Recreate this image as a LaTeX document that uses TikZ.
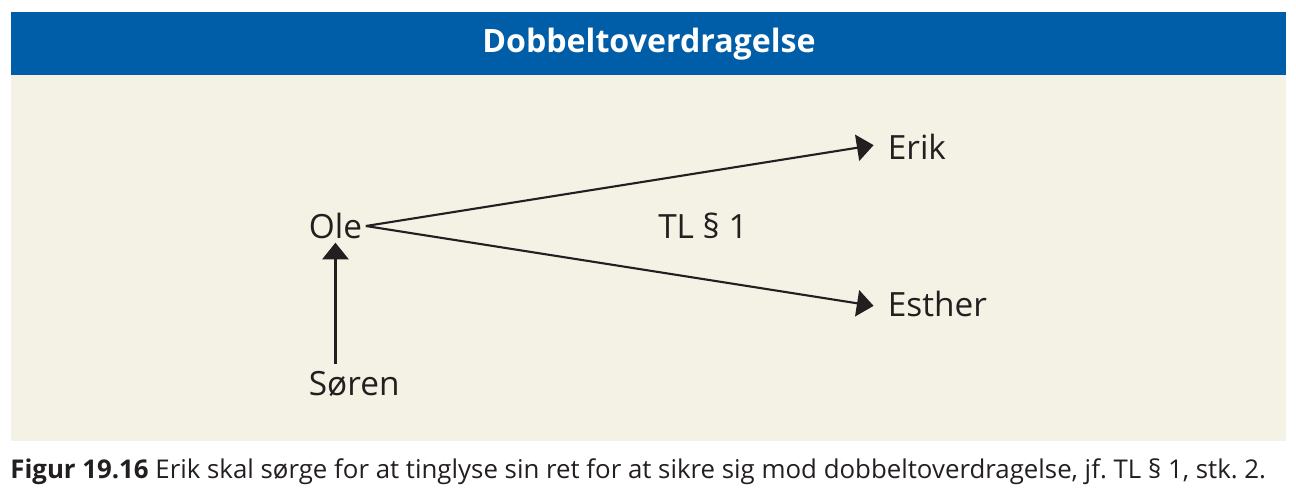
\documentclass[tikz,border=0pt]{standalone}
\usepackage{fontspec}
\setmainfont{Open Sans}
\usepackage{xcolor}
\usetikzlibrary{arrows.meta,positioning,calc}

\definecolor{headblue}{HTML}{005EA8}
\definecolor{paper}{HTML}{F4F1E5}
\definecolor{ink}{HTML}{231F20}

\begin{document}
\frenchspacing
\begin{tikzpicture}[
  x=0.02cm, y=-0.02cm,
  >={Triangle[length=9.5pt,width=15pt]},
  person/.style={
    font=\fontsize{19pt}{22pt}\selectfont,
    text=ink,
    inner sep=2pt,
    anchor=west
  },
  arr/.style={->, line width=1.2pt, draw=ink, fill=ink}
]
\useasboundingbox (0,0) rectangle (1296,494);

% ===== Frame =====
\fill[paper] (11,75) rectangle (1286,441);
\fill[headblue] (11,12) rectangle (1286,75);
\node[font=\fontsize{18.3pt}{22pt}\selectfont\bfseries, text=white] (title) at (649,44) {Dobbeltoverdragelse};

% ===== Persons =====
\node[person] (ole)    at (305,226) {Ole};
\node[person] (erik)   at (884,147) {Erik};
\node[person] (esther) at (884,304) {Esther};
\node[person] (soren)  at (305,384) {Søren};
\node[person, anchor=center] (tl) at (703,226) {TL § 1};

\draw[arr, shorten >=6pt] (ole.east) -- ([yshift=2pt]erik.west);
\draw[arr, shorten >=6pt] (ole.east) -- ([yshift=-2pt]esther.west);
\draw[arr, shorten <=2pt] (ole.south |- soren.north) -- (ole.south);

% ===== Caption =====
\node[anchor=base west, inner sep=0pt, text=ink, font=\fontsize{14.7pt}{17pt}\selectfont] (caption) at (10,478)
  {\textbf{Figur 19.16} Erik skal sørge for at tinglyse sin ret for at sikre sig mod dobbeltoverdragelse, jf. TL § 1, stk. 2.};

\end{tikzpicture}
\end{document}
